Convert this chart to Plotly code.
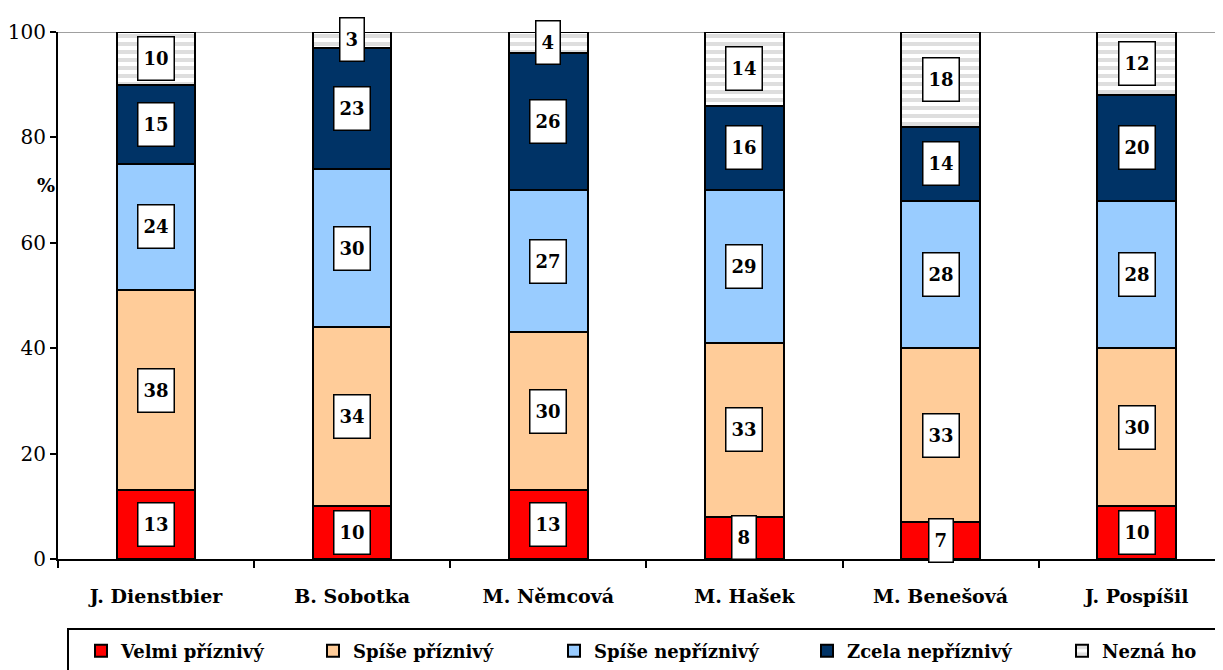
import plotly.graph_objects as go

categories = ["J. Dienstbier", "B. Sobotka", "M. Němcová", "M. Hašek", "M. Benešová", "J. Pospíšil"]
series_names = ["Velmi příznivý", "Spíše příznivý", "Spíše nepříznivý", "Zcela nepříznivý", "Nezná ho"]
velmi = [13, 10, 13, 8, 7, 10]
spise_priz = [38, 34, 30, 33, 33, 30]
spise_nepriz = [24, 30, 27, 29, 28, 28]
zcela = [15, 23, 26, 16, 14, 20]
nezna = [10, 3, 4, 14, 18, 12]
y_ticks = [0, 20, 40, 60, 80, 100]

series = [velmi, spise_priz, spise_nepriz, zcela, nezna]
colors = ["#FF0000", "#FFCC99", "#99CCFF", "#003366", "#FFFFFF"]

OFF = 8  # page body offset
W, H = 1223, 670
L, R, T, B = 50, 8, 24, 119
pw = W - L - R
ph = H - T - B
PX0 = OFF + L
PY1 = OFF + T + ph

SERIF = "DejaVu Serif"

fig = go.Figure()
legend_text_x = [123, 355, 596, 849, 1104]
for i, (name, vals, col) in enumerate(zip(series_names, series, colors)):
    marker = dict(color=col, line=dict(color="black", width=2))
    if i == 4:
        marker["pattern"] = dict(shape="-", fgcolor="#BDBDBD", bgcolor="white", size=8, solidity=0.5)
    lg = "legend" if i == 0 else f"legend{i+1}"
    fig.add_trace(go.Bar(x=categories, y=vals, name=name, marker=marker, width=0.4,
                         legend=lg, showlegend=True, hoverinfo="skip"))

annotations = []
cum = [0] * len(categories)
for vals in series:
    for j, v in enumerate(vals):
        mid = cum[j] + v / 2
        annotations.append(dict(x=categories[j], y=mid, xref="x", yref="y", text=f"<b>{v}</b>",
                                showarrow=False, bgcolor="white", bordercolor="black",
                                borderwidth=1.5, borderpad=5, height=32,
                                font=dict(family=SERIF, size=18, color="black")))
        cum[j] += v

annotations.append(dict(x=(35 - PX0) / pw, y=71, xref="paper", yref="y", text="<b>%</b>",
                        showarrow=False, font=dict(family=SERIF, size=19, color="black")))

layout_legends = {}
for i, tx in enumerate(legend_text_x):
    key = "legend" if i == 0 else f"legend{i+1}"
    layout_legends[key] = dict(x=(tx - 42 - PX0) / pw, xanchor="left", y=-(651 - PY1) / ph,
                               yanchor="middle", orientation="h", bgcolor="rgba(0,0,0,0)",
                               borderwidth=0, visible=True,
                               font=dict(family=SERIF, size=18, color="black", weight="bold"))

shapes = [
    dict(type="line", xref="paper", yref="y", x0=0, x1=1, y0=100, y1=100,
         line=dict(color="#A0A0A0", width=2), layer="below"),
    dict(type="rect", xref="paper", yref="paper", x0=(68 - PX0) / pw, x1=1.02,
         y0=-(629 - PY1) / ph, y1=-0.25, line=dict(color="black", width=2),
         fillcolor="rgba(0,0,0,0)"),
]

fig.update_layout(
    width=W, height=H,
    margin=dict(l=L, r=R, t=T, b=B),
    barmode="stack",
    showlegend=True,
    font=dict(family=SERIF),
    plot_bgcolor="white", paper_bgcolor="white",
    annotations=annotations,
    shapes=shapes,
    **layout_legends,
)
fig.update_xaxes(type="category", range=[-0.5, 5.44], showline=True, linecolor="black", linewidth=2,
                 ticks="outside", tickson="boundaries", ticklen=7, tickwidth=2, tickcolor="black",
                 showgrid=False, ticklabelstandoff=19, automargin=False,
                 tickfont=dict(family=SERIF, size=19, color="black", weight="bold"))
fig.update_yaxes(range=[0, 100], tickvals=y_ticks, showline=True, linecolor="black", linewidth=2,
                 ticks="outside", ticklen=6, tickwidth=2, tickcolor="black", showgrid=False,
                 zeroline=False, automargin=False,
                 tickfont=dict(family=SERIF, size=20, color="black"))

fig.write_html("out.html")
